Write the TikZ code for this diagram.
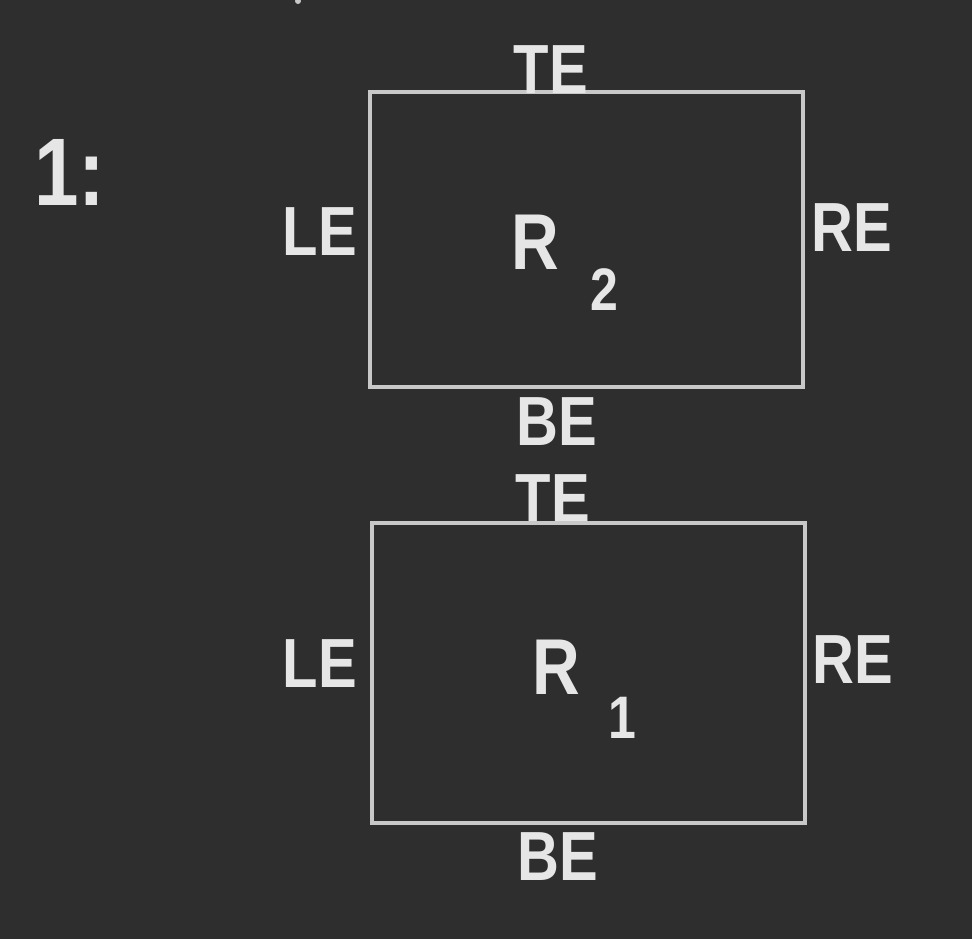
\documentclass[tikz,border=0pt]{standalone}
\usepackage{fontspec}
\setmainfont{Liberation Sans}
\definecolor{board}{HTML}{2E2E2E}
\definecolor{chalk}{HTML}{E6E6E6}
\definecolor{chalkline}{HTML}{C8C8C8}
\begin{document}
\begin{tikzpicture}[x=1pt,y=-1pt,
  lbl/.style={text=chalk,inner sep=0pt,font=\fontsize{58}{62}\selectfont\bfseries,yscale=1.2},
  region/.style={draw=chalkline,line width=3.5pt}]
\fill[board] (0,0) rectangle (972,939);
\useasboundingbox (0,0) rectangle (972,939);
% top rectangle R2
\node[region,minimum width=433pt,minimum height=295pt,inner sep=0pt] (r2) at (586.5,239.5) {};
\node[lbl] (r2te) at (551,70) {TE};
\node[lbl] (r2le) at (320,232) {LE};
\node[lbl] (r2re) at (852,228) {RE};
\node[lbl] (r2be) at (557,422) {BE};
\node[lbl,font=\fontsize{66}{70}\selectfont\bfseries] (r2name) at (535,242) {R};
\node[lbl,font=\fontsize{50}{54}\selectfont\bfseries] (r2sub) at (604,290) {2};
% bottom rectangle R1
\node[lbl] (r1te) at (553,499) {TE};
\node[region,minimum width=433pt,minimum height=300pt,inner sep=0pt] (r1) at (588.5,673) {};
\node[lbl] (r1le) at (320,664) {LE};
\node[lbl] (r1re) at (853,660) {RE};
\node[lbl] (r1be) at (558,857) {BE};
\node[lbl,font=\fontsize{66}{70}\selectfont\bfseries] (r1name) at (556,667) {R};
\node[lbl,font=\fontsize{50}{54}\selectfont\bfseries] (r1sub) at (622,718) {1};
% label
\node[lbl,font=\fontsize{80}{84}\selectfont\bfseries] (num) at (70,172) {1:};
% stray chalk mark
\fill[chalkline] (298,1) circle (3pt);
\end{tikzpicture}
\end{document}
